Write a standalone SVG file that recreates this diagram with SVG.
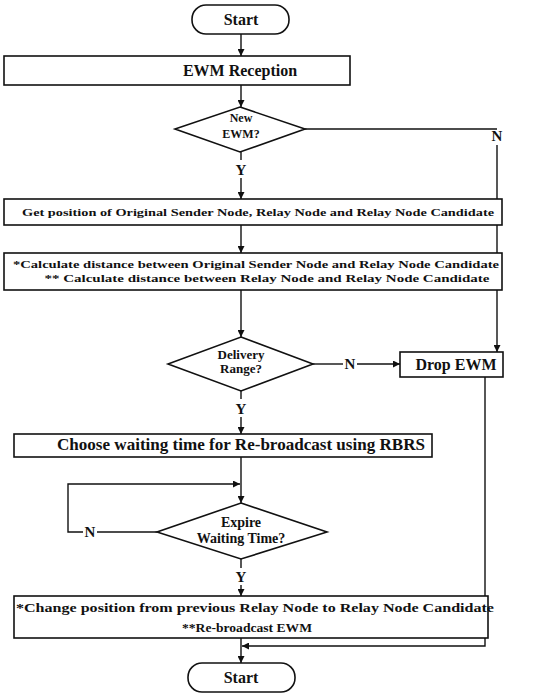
<svg xmlns="http://www.w3.org/2000/svg" width="544" height="695" viewBox="0 0 544 695">
<style>
.box{fill:#fff;stroke:#111;stroke-width:1.6}
.ln{fill:none;stroke:#111;stroke-width:1.4}
text{font-family:"Liberation Serif","Times New Roman",serif;font-weight:bold;fill:#111;text-anchor:middle}
.t15{font-size:16px}
.t12{font-size:12px}
.t11{font-size:11px}
.d12{font-size:12px}
.d13{font-size:13px}
.d14{font-size:14px}
.yn{font-size:15px}
</style>
<defs>
<marker id="ah" viewBox="0 0 10 10" refX="10" refY="5" markerWidth="7" markerHeight="7" markerUnits="userSpaceOnUse" orient="auto">
<path d="M0,0 L10,5 L0,10 Z" fill="#111"/>
</marker>
</defs>
<rect width="544" height="695" fill="#fff"/>
<g id="connectors">
<line class="ln" x1="241" y1="34" x2="241" y2="56" marker-end="url(#ah)"/>
<line class="ln" x1="241" y1="85" x2="241" y2="107" marker-end="url(#ah)"/>
<line class="ln" x1="241" y1="152" x2="241" y2="160"/>
<line class="ln" x1="241" y1="178" x2="241" y2="199" marker-end="url(#ah)"/>
<line class="ln" x1="241" y1="225" x2="241" y2="253" marker-end="url(#ah)"/>
<line class="ln" x1="241" y1="290" x2="241" y2="337" marker-end="url(#ah)"/>
<polyline class="ln" points="305,129 497,129"/>
<line class="ln" x1="497" y1="145" x2="497" y2="352" marker-end="url(#ah)"/>
<line class="ln" x1="313" y1="364" x2="343" y2="364"/>
<line class="ln" x1="357" y1="364" x2="400" y2="364" marker-end="url(#ah)"/>
<line class="ln" x1="241" y1="391" x2="241" y2="399"/>
<line class="ln" x1="241" y1="417" x2="241" y2="434" marker-end="url(#ah)"/>
<line class="ln" x1="241" y1="457" x2="241" y2="503" marker-end="url(#ah)"/>
<polyline class="ln" points="157,532 97,532"/>
<polyline class="ln" points="83,532 68,532 68,484 240,484" marker-end="url(#ah)"/>
<line class="ln" x1="241" y1="559" x2="241" y2="568"/>
<line class="ln" x1="241" y1="585" x2="241" y2="596" marker-end="url(#ah)"/>
<line class="ln" x1="241" y1="638" x2="241" y2="663" marker-end="url(#ah)"/>
<polyline class="ln" points="485,377 485,646 242,646" marker-end="url(#ah)"/>
<text class="yn" x="497" y="141">N</text>
<text class="yn" x="241" y="175">Y</text>
<text class="yn" x="350" y="369">N</text>
<text class="yn" x="241" y="414">Y</text>
<text class="yn" x="90" y="537">N</text>
<text class="yn" x="241" y="582">Y</text>
</g>
<g id="start-top">
<rect class="box" x="192" y="5" width="97" height="29" rx="14" ry="14"/>
<text class="t15" x="241" y="25">Start</text>
</g>
<g id="ewm-reception">
<rect class="box" x="4" y="56" width="346" height="29"/>
<text class="t15" x="240" y="76">EWM Reception</text>
</g>
<g id="new-ewm">
<polygon class="box" points="240,107 305,129 240,152 175,129"/>
<text class="d12" x="241" y="122">New</text>
<text class="d12" x="241" y="138">EWM?</text>
</g>
<g id="get-position">
<rect class="box" x="4" y="199" width="498" height="26"/>
<text class="t11" x="258" y="216" textLength="472" lengthAdjust="spacingAndGlyphs">Get position of Original Sender Node, Relay Node and  Relay Node Candidate</text>
</g>
<g id="calculate">
<rect class="box" x="4" y="253" width="498" height="37"/>
<text class="t11" x="256" y="268" textLength="486" lengthAdjust="spacingAndGlyphs">*Calculate distance between Original Sender Node and Relay Node Candidate</text>
<text class="t11" x="267" y="282" textLength="445" lengthAdjust="spacingAndGlyphs">** Calculate distance between Relay Node and Relay Node Candidate</text>
</g>
<g id="delivery-range">
<polygon class="box" points="241,337 313,364 241,391 168,364"/>
<text class="d13" x="241" y="359">Delivery</text>
<text class="d13" x="241" y="373">Range?</text>
</g>
<g id="drop-ewm">
<rect class="box" x="400" y="352" width="103" height="25"/>
<text class="t15" x="456" y="370">Drop EWM</text>
</g>
<g id="choose">
<rect class="box" x="14" y="434" width="418" height="23"/>
<text class="t15" x="241" y="450" textLength="368" lengthAdjust="spacingAndGlyphs">Choose  waiting time for Re-broadcast using RBRS</text>
</g>
<g id="expire">
<polygon class="box" points="241,503 327,532 241,559 157,532"/>
<text class="d14" x="241" y="527">Expire</text>
<text class="d14" x="241" y="543">Waiting Time?</text>
</g>
<g id="change">
<rect class="box" x="14" y="596" width="474" height="42"/>
<text class="t12" x="255" y="612" textLength="478" lengthAdjust="spacingAndGlyphs">*Change position from previous Relay Node to Relay Node Candidate</text>
<text class="t12" x="247" y="632" textLength="130" lengthAdjust="spacingAndGlyphs">**Re-broadcast EWM</text>
</g>
<g id="start-bottom">
<rect class="box" x="188" y="663" width="107" height="29" rx="14" ry="14"/>
<text class="t15" x="241" y="683">Start</text>
</g>
</svg>
